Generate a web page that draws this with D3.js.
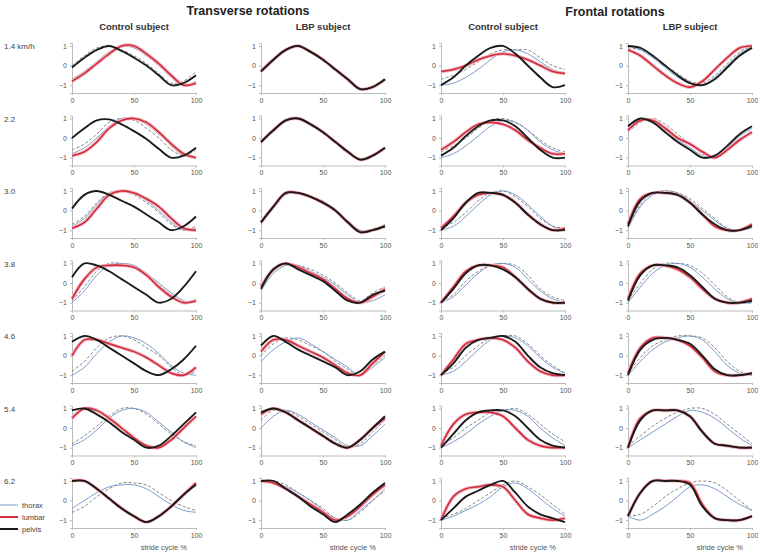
<!DOCTYPE html>
<html>
<head>
<meta charset="utf-8">
<script src="https://cdn.jsdelivr.net/npm/d3@7"></script>
<style>
  body { margin: 0; background: #fff; }
  svg text { font-family: "Liberation Sans", Arial, sans-serif; }
</style>
</head>
<body>
<svg id="chart" width="758" height="552"></svg>
<script>
// walking speeds, one row each
var speeds = ["1.4 km/h", "2.2", "3.0", "3.8", "4.6", "5.4", "6.2"];
// % of stride cycle where values were read
var stridePct = [0, 10, 20, 30, 40, 50, 60, 70, 80, 90, 100];
var xTickVals = [0, 50, 100];
var yTickVals = [-1, 0, 1];
var segments = ["thorax", "lumbar", "pelvis"];

// Transverse rotations, control subject
var transCtrlThorax = [
  [-0.7, -0.3, 0.2, 0.7, 1.0, 0.9, 0.5, 0.0, -0.6, -1.0, -0.8],
  [-0.8, -0.5, 0.0, 0.6, 1.0, 1.0, 0.7, 0.2, -0.4, -0.9, -1.0],
  [-0.8, -0.4, 0.3, 0.9, 1.0, 0.9, 0.5, 0.0, -0.6, -1.0, -0.9],
  [-1.0, -0.4, 0.4, 0.9, 1.0, 0.9, 0.5, 0.0, -0.5, -0.9, -1.0],
  [-1.0, -0.6, 0.1, 0.7, 1.0, 0.9, 0.6, 0.1, -0.5, -0.9, -1.0],
  [-0.9, -0.6, -0.1, 0.5, 0.9, 1.0, 0.8, 0.3, -0.2, -0.7, -1.0],
  [-0.4, 0.0, 0.4, 0.7, 0.8, 0.8, 0.6, 0.2, -0.2, -0.5, -0.6]
];
var transCtrlThoraxDash = [
  [0.0, 0.5, 0.9, 1.0, 0.8, 0.5, 0.1, -0.4, -0.9, -0.8, -0.3],
  [-0.6, -0.3, 0.2, 0.8, 1.0, 0.9, 0.5, 0.0, -0.6, -0.9, -0.6],
  [-0.7, -0.3, 0.4, 0.9, 1.0, 0.8, 0.4, -0.1, -0.7, -1.0, -0.8],
  [-0.9, -0.2, 0.6, 1.0, 1.0, 0.8, 0.4, -0.1, -0.6, -1.0, -0.9],
  [-0.8, -0.3, 0.4, 0.9, 1.0, 0.8, 0.4, 0.0, -0.6, -1.0, -0.8],
  [-0.8, -0.4, 0.1, 0.6, 1.0, 1.0, 0.7, 0.2, -0.3, -0.7, -0.9],
  [-0.6, -0.3, 0.2, 0.6, 0.9, 0.9, 0.8, 0.4, 0.0, -0.3, -0.5]
];
var transCtrlLumbar = [
  [-0.8, -0.4, 0.1, 0.6, 1.0, 1.0, 0.6, 0.1, -0.5, -1.0, -0.9],
  [-0.9, -0.7, -0.2, 0.5, 0.9, 1.0, 0.8, 0.3, -0.3, -0.8, -1.0],
  [-0.9, -0.6, 0.1, 0.8, 1.0, 0.9, 0.6, 0.2, -0.4, -0.9, -1.0],
  [-0.8, 0.2, 0.8, 0.9, 0.9, 0.8, 0.4, -0.2, -0.7, -1.0, -0.9],
  [0.0, 0.8, 0.8, 0.6, 0.4, 0.2, -0.1, -0.5, -0.9, -1.0, -0.6],
  [0.5, 1.0, 0.9, 0.5, 0.0, -0.5, -0.9, -1.0, -0.6, 0.0, 0.6],
  [1.0, 1.0, 0.6, 0.1, -0.4, -0.8, -1.1, -0.8, -0.3, 0.3, 0.9]
];
var transCtrlPelvis = [
  [-0.1, 0.4, 0.8, 1.0, 0.75, 0.4, 0.0, -0.5, -1.0, -0.9, -0.5],
  [0.0, 0.5, 0.9, 0.95, 0.7, 0.35, -0.05, -0.55, -1.0, -0.9, -0.5],
  [0.1, 0.8, 1.0, 0.8, 0.5, 0.2, -0.2, -0.6, -1.0, -0.8, -0.3],
  [0.3, 1.0, 0.9, 0.6, 0.2, -0.2, -0.6, -1.0, -0.8, -0.2, 0.6],
  [0.7, 1.0, 0.8, 0.4, 0.0, -0.4, -0.8, -1.0, -0.7, -0.2, 0.5],
  [0.9, 1.0, 0.7, 0.3, -0.2, -0.6, -1.0, -0.9, -0.4, 0.2, 0.8],
  [1.0, 1.0, 0.6, 0.1, -0.4, -0.8, -1.1, -0.8, -0.3, 0.3, 0.8]
];

// Transverse rotations, LBP subject
var transLbpThorax = [
  [-0.3, 0.3, 0.8, 1.0, 0.7, 0.3, -0.2, -0.7, -1.2, -1.1, -0.7],
  [-0.2, 0.4, 0.9, 1.0, 0.7, 0.3, -0.2, -0.7, -1.1, -0.9, -0.5],
  [-0.7, 0.1, 0.8, 0.9, 0.7, 0.4, 0.0, -0.5, -1.0, -1.0, -0.8],
  [-0.4, 0.5, 0.9, 0.9, 0.6, 0.3, -0.1, -0.6, -1.0, -0.9, -0.6],
  [-0.3, 0.3, 0.7, 0.9, 0.6, 0.2, -0.2, -0.6, -1.0, -0.6, -0.1],
  [0.0, 0.6, 0.9, 0.7, 0.3, -0.1, -0.5, -0.9, -0.9, -0.4, 0.2],
  [1.0, 0.9, 0.7, 0.4, 0.0, -0.5, -0.9, -1.0, -0.5, 0.0, 0.6]
];
var transLbpThoraxDash = [
  [-0.3, 0.3, 0.8, 1.0, 0.7, 0.3, -0.2, -0.7, -1.2, -1.1, -0.7],
  [-0.2, 0.4, 0.9, 1.0, 0.7, 0.3, -0.2, -0.7, -1.1, -0.9, -0.5],
  [-0.6, 0.2, 0.9, 0.9, 0.7, 0.5, 0.0, -0.6, -1.1, -1.0, -0.7],
  [-0.1, 0.6, 1.0, 0.9, 0.7, 0.4, 0.0, -0.5, -0.9, -0.5, -0.2],
  [0.0, 0.6, 0.9, 0.8, 0.5, 0.2, -0.3, -0.7, -1.0, -0.5, 0.0],
  [0.4, 0.9, 0.9, 0.6, 0.2, -0.2, -0.6, -1.0, -0.8, -0.2, 0.4],
  [1.0, 1.0, 0.8, 0.4, 0.0, -0.4, -0.9, -1.0, -0.6, 0.0, 0.5]
];
var transLbpLumbar = [
  [-0.3, 0.3, 0.8, 1.0, 0.7, 0.3, -0.2, -0.7, -1.2, -1.1, -0.7],
  [-0.2, 0.4, 0.9, 1.0, 0.7, 0.3, -0.2, -0.7, -1.1, -0.9, -0.5],
  [-0.6, 0.2, 0.9, 0.9, 0.7, 0.4, 0.0, -0.6, -1.1, -1.0, -0.8],
  [-0.2, 0.7, 1.0, 0.8, 0.5, 0.2, -0.3, -0.8, -1.0, -0.7, -0.3],
  [0.2, 0.8, 0.8, 0.5, 0.2, -0.1, -0.5, -0.9, -1.0, -0.4, 0.2],
  [0.7, 1.0, 0.8, 0.4, 0.0, -0.4, -0.8, -1.0, -0.6, 0.0, 0.5],
  [1.0, 0.9, 0.6, 0.2, -0.2, -0.6, -1.0, -0.8, -0.3, 0.3, 0.8]
];
var transLbpPelvis = [
  [-0.3, 0.3, 0.8, 1.0, 0.7, 0.3, -0.2, -0.7, -1.2, -1.1, -0.7],
  [-0.2, 0.4, 0.9, 1.0, 0.7, 0.3, -0.2, -0.7, -1.1, -0.9, -0.5],
  [-0.6, 0.2, 0.9, 0.9, 0.7, 0.4, 0.0, -0.6, -1.1, -1.0, -0.8],
  [-0.3, 0.7, 1.0, 0.7, 0.4, 0.1, -0.4, -0.9, -1.0, -0.6, -0.4],
  [0.5, 1.0, 0.7, 0.3, 0.0, -0.3, -0.6, -1.0, -0.8, -0.2, 0.2],
  [0.8, 1.0, 0.8, 0.4, 0.0, -0.4, -0.8, -1.0, -0.6, 0.0, 0.6],
  [1.0, 1.0, 0.6, 0.2, -0.3, -0.7, -1.1, -0.7, -0.2, 0.4, 0.9]
];

// Frontal rotations, control subject
var frontCtrlThorax = [
  [-1.0, -0.9, -0.6, -0.2, 0.3, 0.7, 0.8, 0.6, 0.2, -0.2, -0.4],
  [-1.0, -0.8, -0.4, 0.1, 0.6, 0.9, 0.8, 0.4, -0.2, -0.6, -0.8],
  [-1.0, -0.8, -0.3, 0.3, 0.8, 1.0, 0.8, 0.3, -0.3, -0.8, -1.0],
  [-1.0, -0.7, -0.1, 0.5, 0.9, 1.0, 0.8, 0.2, -0.4, -0.8, -1.0],
  [-1.0, -0.8, -0.3, 0.3, 0.8, 1.0, 0.9, 0.5, -0.1, -0.6, -0.9],
  [-1.0, -0.7, -0.3, 0.2, 0.6, 0.9, 0.9, 0.6, 0.0, -0.5, -0.9],
  [-1.0, -0.8, -0.5, -0.2, 0.2, 0.7, 0.9, 0.6, 0.1, -0.4, -0.8]
];
var frontCtrlThoraxDash = [
  [-0.7, -0.5, -0.2, 0.2, 0.6, 0.8, 0.8, 0.8, 0.4, 0.0, -0.2],
  [-0.7, -0.4, 0.0, 0.5, 0.9, 1.0, 0.8, 0.4, -0.1, -0.5, -0.7],
  [-0.9, -0.6, -0.1, 0.5, 0.9, 1.0, 0.7, 0.2, -0.4, -0.8, -0.9],
  [-0.9, -0.6, 0.1, 0.6, 0.9, 1.0, 0.9, 0.4, -0.3, -0.7, -0.9],
  [-0.9, -0.6, 0.0, 0.5, 0.9, 1.0, 1.0, 0.6, 0.0, -0.5, -0.9],
  [-0.9, -0.5, 0.0, 0.4, 0.8, 0.9, 1.0, 0.7, 0.2, -0.3, -0.7],
  [-0.9, -0.7, -0.4, 0.0, 0.4, 0.8, 1.0, 0.7, 0.3, -0.2, -0.7]
];
var frontCtrlLumbar = [
  [-0.3, -0.2, 0.0, 0.3, 0.5, 0.6, 0.5, 0.3, 0.0, -0.3, -0.4],
  [-0.6, -0.2, 0.3, 0.7, 0.8, 0.7, 0.4, -0.1, -0.5, -0.8, -0.8],
  [-0.9, -0.3, 0.4, 0.8, 0.9, 0.8, 0.4, -0.2, -0.7, -1.0, -0.9],
  [-1.0, -0.2, 0.6, 0.9, 0.9, 0.8, 0.3, -0.3, -0.8, -1.0, -1.0],
  [-1.0, -0.2, 0.6, 0.8, 0.9, 0.8, 0.4, -0.3, -0.8, -1.0, -1.0],
  [-0.9, 0.2, 0.7, 0.8, 0.8, 0.6, 0.0, -0.6, -0.9, -1.0, -1.0],
  [-1.0, 0.2, 0.6, 0.7, 0.8, 0.7, 0.0, -0.7, -0.9, -1.0, -0.9]
];
var frontCtrlPelvis = [
  [-1.0, -0.6, 0.0, 0.5, 0.9, 1.0, 0.6, 0.0, -0.6, -1.1, -1.0],
  [-0.9, -0.5, 0.1, 0.6, 0.9, 0.9, 0.6, 0.0, -0.6, -1.0, -1.0],
  [-1.0, -0.4, 0.4, 0.9, 0.9, 0.8, 0.4, -0.2, -0.7, -1.0, -1.0],
  [-1.0, -0.3, 0.5, 0.9, 0.9, 0.7, 0.3, -0.3, -0.8, -1.0, -1.0],
  [-1.0, -0.4, 0.4, 0.8, 0.9, 1.0, 0.7, 0.0, -0.6, -0.9, -1.0],
  [-1.0, -0.3, 0.4, 0.8, 0.9, 0.9, 0.6, 0.0, -0.6, -0.9, -1.0],
  [-1.0, -0.4, 0.2, 0.5, 0.8, 1.0, 0.4, -0.3, -0.7, -0.9, -1.1]
];

// Frontal rotations, LBP subject
var frontLbpThorax = [
  [1.0, 0.8, 0.4, -0.1, -0.6, -0.9, -1.0, -0.6, 0.0, 0.6, 1.0],
  [0.5, 0.9, 0.8, 0.4, -0.1, -0.5, -0.9, -1.0, -0.5, 0.1, 0.5],
  [-0.9, 0.2, 0.8, 1.0, 0.9, 0.5, 0.0, -0.5, -0.9, -1.0, -0.9],
  [-1.0, -0.2, 0.5, 0.9, 1.0, 0.8, 0.3, -0.3, -0.8, -1.0, -1.0],
  [-1.0, -0.3, 0.3, 0.7, 0.9, 1.0, 0.8, 0.2, -0.5, -0.9, -1.0],
  [-1.0, -0.6, -0.2, 0.2, 0.6, 0.9, 0.8, 0.5, 0.0, -0.5, -0.9],
  [-0.8, -1.0, -0.7, -0.3, 0.2, 0.7, 0.8, 0.6, 0.2, -0.2, -0.5]
];
var frontLbpThoraxDash = [
  [0.9, 0.8, 0.5, 0.0, -0.4, -0.8, -0.9, -0.5, 0.1, 0.7, 1.0],
  [0.3, 0.8, 1.0, 0.7, 0.2, -0.3, -0.8, -1.0, -0.7, -0.1, 0.4],
  [-0.8, 0.3, 0.9, 1.0, 0.9, 0.6, 0.1, -0.4, -0.9, -1.0, -0.8],
  [-0.9, 0.0, 0.7, 1.0, 1.0, 0.9, 0.5, -0.1, -0.7, -1.0, -1.0],
  [-0.9, -0.1, 0.5, 0.8, 1.0, 1.0, 0.9, 0.4, -0.3, -0.8, -1.0],
  [-0.9, -0.4, 0.1, 0.5, 0.8, 1.0, 1.0, 0.7, 0.2, -0.3, -0.8],
  [-0.8, -0.7, -0.3, 0.2, 0.6, 0.9, 1.0, 0.9, 0.5, 0.0, -0.5]
];
var frontLbpLumbar = [
  [0.8, 0.5, 0.0, -0.5, -0.9, -1.1, -0.8, -0.2, 0.4, 0.9, 1.0],
  [0.4, 0.9, 0.9, 0.5, 0.0, -0.3, -0.7, -1.0, -0.6, -0.1, 0.3],
  [-0.7, 0.6, 0.9, 0.9, 0.8, 0.4, -0.2, -0.8, -1.0, -1.0, -0.7],
  [-0.8, 0.5, 0.9, 0.9, 0.7, 0.3, -0.3, -0.8, -1.0, -1.0, -0.8],
  [-0.9, 0.4, 0.9, 0.9, 0.8, 0.5, -0.1, -0.8, -1.0, -1.0, -0.9],
  [-1.0, 0.5, 0.9, 0.9, 0.9, 0.6, -0.2, -0.8, -0.9, -1.0, -1.0],
  [-0.8, 0.4, 1.0, 1.0, 1.0, 0.9, -0.2, -0.9, -1.0, -1.0, -0.8]
];
var frontLbpPelvis = [
  [1.0, 0.9, 0.5, 0.0, -0.5, -0.9, -1.0, -0.7, -0.1, 0.5, 0.9],
  [0.6, 1.0, 0.8, 0.3, -0.2, -0.6, -1.0, -0.9, -0.4, 0.2, 0.6],
  [-0.8, 0.5, 0.9, 0.9, 0.8, 0.4, -0.2, -0.7, -1.0, -1.0, -0.8],
  [-0.9, 0.4, 0.9, 0.9, 0.8, 0.4, -0.2, -0.8, -1.0, -1.0, -0.9],
  [-1.0, 0.3, 0.8, 0.9, 0.8, 0.6, 0.0, -0.7, -1.0, -1.0, -0.9],
  [-1.0, 0.4, 0.9, 0.9, 0.9, 0.6, -0.2, -0.8, -0.9, -1.0, -1.0],
  [-0.8, 0.4, 1.0, 1.0, 1.0, 0.8, -0.3, -0.9, -1.0, -1.0, -0.8]
];

var panels = [
  {sub: "Control subject", thorax: transCtrlThorax, dash: transCtrlThoraxDash, lumbar: transCtrlLumbar, pelvis: transCtrlPelvis},
  {sub: "LBP subject", thorax: transLbpThorax, dash: transLbpThoraxDash, lumbar: transLbpLumbar, pelvis: transLbpPelvis},
  {sub: "Control subject", thorax: frontCtrlThorax, dash: frontCtrlThoraxDash, lumbar: frontCtrlLumbar, pelvis: frontCtrlPelvis},
  {sub: "LBP subject", thorax: frontLbpThorax, dash: frontLbpThoraxDash, lumbar: frontLbpLumbar, pelvis: frontLbpPelvis}
];

var colX = [72, 261, 441, 628],
    pw = 124, ph = 50,
    rowTop = 43, rowStep = 72.5;

var svg = d3.select("#chart");

var x = d3.scaleLinear().domain([0, 100]).range([0, pw]);
var y = d3.scaleLinear().domain([-1.4, 1.15]).range([ph, 0]);

var line = d3.line()
    .x(function (d, i) { return x(stridePct[i]); })
    .y(function (d) { return y(d); })
    .curve(d3.curveCatmullRom);

// titles
svg.append("text").attr("x", 248).attr("y", 15).attr("text-anchor", "middle")
  .attr("font-size", 12.5).attr("font-weight", "bold").attr("fill", "#222")
  .text("Transverse rotations");
svg.append("text").attr("x", 615).attr("y", 16).attr("text-anchor", "middle")
  .attr("font-size", 12.5).attr("font-weight", "bold").attr("fill", "#222")
  .text("Frontal rotations");

panels.forEach(function (p, c) {
  svg.append("text").attr("x", colX[c] + pw / 2).attr("y", 30)
    .attr("text-anchor", "middle").attr("font-size", 9.5).attr("font-weight", "bold")
    .attr("fill", "#333").text(p.sub);

  speeds.forEach(function (s, r) {
    var g = svg.append("g")
      .attr("transform", "translate(" + colX[c] + "," + (rowTop + r * rowStep) + ")");

    var ax = g.append("g").attr("transform", "translate(0," + ph + ")")
      .call(d3.axisBottom(x).tickValues(xTickVals).tickSize(2).tickPadding(3)
        .tickFormat(d3.format("d")));
    var ay = g.append("g")
      .call(d3.axisLeft(y).tickValues(yTickVals).tickSize(2).tickPadding(3)
        .tickFormat(d3.format("d")));
    [ax, ay].forEach(function (a) {
      a.select(".domain").attr("stroke", "#bbb");
      a.selectAll(".tick line").attr("stroke", "#bbb");
      a.selectAll(".tick text").attr("font-size", 7).attr("fill", "#555")
        .attr("font-family", "Liberation Sans, Arial, sans-serif");
    });

    g.append("path").datum(p.dash[r]).attr("d", line)
      .attr("fill", "none").attr("stroke", "#666").attr("stroke-width", 0.8)
      .attr("stroke-dasharray", "3,2");
    g.append("path").datum(p.thorax[r]).attr("d", line)
      .attr("fill", "none").attr("stroke", "#6d8fc4").attr("stroke-width", 0.9);
    g.append("path").datum(p.lumbar[r]).attr("d", line)
      .attr("fill", "none").attr("stroke", "#f0b7bf").attr("stroke-width", 3.5);
    g.append("path").datum(p.lumbar[r]).attr("d", line)
      .attr("fill", "none").attr("stroke", "#d42a3c").attr("stroke-width", 1.6);
    g.append("path").datum(p.pelvis[r]).attr("d", line)
      .attr("fill", "none").attr("stroke", "#1a1a1a").attr("stroke-width", 1.9);

    if (c === 0) {
      svg.append("text").attr("x", 4).attr("y", rowTop + r * rowStep + 6)
        .attr("font-size", 8).attr("fill", "#444").text(s);
    }
  });

  svg.append("text").attr("x", colX[c] + pw * 0.74).attr("y", 550)
    .attr("text-anchor", "middle").attr("font-size", 7.5).attr("fill", "#555")
    .text("stride cycle %");
});

// legend
var legColors = {thorax: "#6d8fc4", lumbar: "#d42a3c", pelvis: "#1a1a1a"};
var legWidths = {thorax: 0.9, lumbar: 2, pelvis: 2};
segments.forEach(function (s, i) {
  var ly = 505 + i * 12;
  svg.append("line").attr("x1", 0).attr("x2", 18).attr("y1", ly).attr("y2", ly)
    .attr("stroke", legColors[s]).attr("stroke-width", legWidths[s]);
  svg.append("text").attr("x", 22).attr("y", ly + 2.5).attr("font-size", 7.5)
    .attr("fill", "#444").text(s);
});
</script>
</body>
</html>
